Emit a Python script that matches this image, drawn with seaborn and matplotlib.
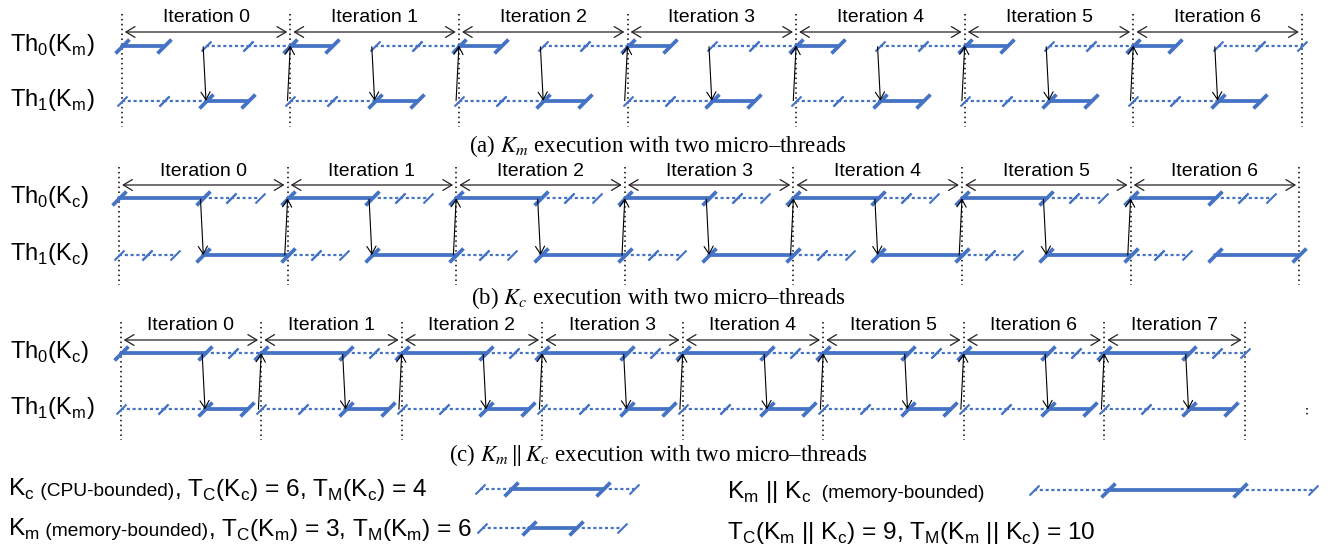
import matplotlib
matplotlib.use("Agg")
import matplotlib.pyplot as plt
import pandas as pd
import seaborn as sns

# ---------------- data ----------------
KERNEL_NAMES = ["Kc", "Km", "Km||Kc"]
T_COMPUTE = [6, 3, 9]          # T_C of Kc, Km, Km||Kc
T_MEMORY = [4, 6, 10]          # T_M of Kc, Km, Km||Kc

ITER_PERIOD = [12, 12, 10]     # panel (a), (b), (c)
ITER_COUNT = [7, 7, 8]

# per-iteration schedule of each micro-thread: (start, end, phase)  C = compute, M = memory
A_TH0 = [(0, 3, "C"), (6, 9, "M"), (9, 12, "M")]
A_TH1 = [(0, 3, "M"), (3, 6, "M"), (6, 9, "C")]
B_TH0 = [(0, 6, "C"), (6, 8, "M"), (8, 10, "M")]
B_TH1 = [(0, 2, "M"), (2, 4, "M"), (6, 12, "C")]
C_TH0 = [(0, 6, "C"), (6, 8, "M"), (8, 10, "M")]
C_TH1 = [(0, 3, "M"), (3, 6, "M"), (6, 9, "C")]
SCHEDULES = [[A_TH0, A_TH1], [B_TH0, B_TH1], [C_TH0, C_TH1]]

# hand-off arrows Th0 -> Th1 (at DOWN_AT inside iteration) and Th1 -> Th0 (at iteration start)
DOWN_AT = [6, 6, 6]
DOWN_ITERS = [[0, 1, 2, 3, 4, 5, 6], [0, 1, 2, 3, 4, 5], [0, 1, 2, 3, 4, 5, 6, 7]]
UP_ITERS = [[1, 2, 3, 4, 5, 6], [1, 2, 3, 4, 5, 6], [1, 2, 3, 4, 5, 6, 7]]

THREAD_LABELS = [
    [r"Th$_\mathregular{0}$(K$_\mathregular{m}$)", r"Th$_\mathregular{1}$(K$_\mathregular{m}$)"],
    [r"Th$_\mathregular{0}$(K$_\mathregular{c}$)", r"Th$_\mathregular{1}$(K$_\mathregular{c}$)"],
    [r"Th$_\mathregular{0}$(K$_\mathregular{c}$)", r"Th$_\mathregular{1}$(K$_\mathregular{m}$)"],
]
CAPTIONS = [
    r"(a) $K_m$ execution with two micro–threads",
    r"(b) $K_c$ execution with two micro–threads",
    r"(c) $K_m\,\Vert\,K_c$ execution with two micro–threads",
]

# ---------------- layout / style ----------------
BLUE = "#4472C4"
X0, S = 120.5, 14.05                      # px of t=0, px per time unit
PANEL_ORIGIN_PX = [121.7, 119.0, 120.7]
ROW_Y = [(45.7, 100.7), (198.3, 255.0), (353.3, 409.3)]
ARROW_Y = [32, 185, 340]
ITER_TEXT_Y = [18, 171, 326]
VLINE_Y = [(14, 127), (167, 285), (322, 440)]
CAPTION_Y = [146, 298, 455]
CAPTION_X = 658
LABEL_X = 10

LEG_SAMPLES = [(0, 480, 15.4, 489), (1, 482, 15.6, 528), (2, 1034, 14.7, 490)]  # kernel, x_px, px/unit, y


def tx(px):
    return (px - X0) / S


sns.set_theme(style="white")
plt.rcParams["font.family"] = ["Liberation Sans", "DejaVu Sans"]

fig = plt.figure(figsize=(13.3, 5.5), dpi=100)
ax = fig.add_axes([0, 0, 1, 1])

seg_rows, tick_rows = [], []
sid = 0


def add_seg(xa, xb, y, ph):
    global sid
    seg_rows.append(dict(x=xa, y=y, seg=sid, phase=ph))
    seg_rows.append(dict(x=xb, y=y, seg=sid, phase=ph))
    tick_rows.append(dict(x=xa, y=y, phase=ph))
    tick_rows.append(dict(x=xb, y=y, phase=ph))
    sid += 1


for p in range(3):
    off = tx(PANEL_ORIGIN_PX[p])
    P = ITER_PERIOD[p]
    for th, sched in enumerate(SCHEDULES[p]):
        y = ROW_Y[p][th]
        for k in range(ITER_COUNT[p]):
            base = off + k * P
            for (s, e, ph) in sched:
                add_seg(base + s, base + e, y, ph)

# legend samples: load (TM/2), compute (TC), store (TM/2)
for (ki, xpx, ppu, ypx) in LEG_SAMPLES:
    u = ppu / S
    x = tx(xpx)
    half = T_MEMORY[ki] / 2
    add_seg(x, x + half * u, ypx, "M")
    add_seg(x + half * u, x + (half + T_COMPUTE[ki]) * u, ypx, "C")
    add_seg(x + (half + T_COMPUTE[ki]) * u, x + (T_MEMORY[ki] + T_COMPUTE[ki]) * u, ypx, "M")

seg_df = pd.DataFrame(seg_rows)
tick_df = pd.DataFrame(tick_rows)

sns.lineplot(data=seg_df[seg_df.phase == "M"], x="x", y="y", units="seg", estimator=None,
             sort=False, color=BLUE, lw=1.6, linestyle=(0, (1.4, 1.2)), legend=False, ax=ax, zorder=2)
sns.lineplot(data=seg_df[seg_df.phase == "C"], x="x", y="y", units="seg", estimator=None,
             sort=False, color=BLUE, lw=2.7, legend=False, ax=ax, zorder=2)

SLASH = [(-1, -1), (1, 1)]
sns.scatterplot(data=tick_df[tick_df.phase == "M"], x="x", y="y", marker=SLASH, s=52,
                linewidth=1.5, color=BLUE, edgecolor=BLUE, legend=False, ax=ax, zorder=3)
sns.scatterplot(data=tick_df[tick_df.phase == "C"], x="x", y="y", marker=SLASH, s=100,
                linewidth=2.7, color=BLUE, edgecolor=BLUE, legend=False, ax=ax, zorder=4)

for p in range(3):
    off = tx(PANEL_ORIGIN_PX[p])
    P = ITER_PERIOD[p]
    y0, y1 = ROW_Y[p]
    # boundaries
    xs = [off + k * P for k in range(ITER_COUNT[p] + 1)]
    ax.vlines(xs, VLINE_Y[p][0], VLINE_Y[p][1], colors="black", linestyles=(0, (1, 2.2)),
              lw=1.1, zorder=1)
    # iteration arrows & labels
    for k in range(ITER_COUNT[p]):
        base = off + k * P
        ax.annotate("", xy=(base + P - 0.22, ARROW_Y[p]), xytext=(base + 0.22, ARROW_Y[p]),
                    arrowprops=dict(arrowstyle="<->,head_length=0.5,head_width=0.3", color="#222222",
                                    lw=0.9, shrinkA=0, shrinkB=0, mutation_scale=13))
        ax.text(base + P / 2, ITER_TEXT_Y[p], f"Iteration {k}", ha="center", va="center",
                fontsize=14, color="black")
    for k in DOWN_ITERS[p]:
        t = off + k * P + DOWN_AT[p]
        ax.annotate("", xy=(t, y1), xytext=(t - 0.2, y0 + 1),
                    arrowprops=dict(arrowstyle="->,head_length=0.5,head_width=0.3", color="black",
                                    lw=0.8, shrinkA=0, shrinkB=0, mutation_scale=11), zorder=5)
    for k in UP_ITERS[p]:
        t = off + k * P
        ax.annotate("", xy=(t, y0), xytext=(t - 0.2, y1),
                    arrowprops=dict(arrowstyle="->,head_length=0.5,head_width=0.3", color="black",
                                    lw=0.8, shrinkA=0, shrinkB=0, mutation_scale=11), zorder=5)
    for th in range(2):
        ax.text(tx(LABEL_X), ROW_Y[p][th] - 1, THREAD_LABELS[p][th], ha="left", va="center",
                fontsize=17, color="black")
    ax.text(tx(CAPTION_X), CAPTION_Y[p], CAPTIONS[p], ha="center", va="center", fontsize=16.5,
            family="Liberation Serif", math_fontfamily="stix", color="black")

# stray dotted mark at the right of panel (c)
ax.vlines([tx(1307)], 408, 417, colors="black", linestyles=(0, (1, 2.2)), lw=1.1)

# legend texts (pieces chained on a common baseline)
BIG, SMALL = 17.6, 13.8
LEG_TEXTS = [
    ((8, 496), [(r"K$_\mathregular{c}$", BIG), (" (CPU-bounded)", SMALL),
                (rf", T$_\mathregular{{C}}$(K$_\mathregular{{c}}$) = {T_COMPUTE[0]}, "
                 rf"T$_\mathregular{{M}}$(K$_\mathregular{{c}}$) = {T_MEMORY[0]}", BIG)]),
    ((8, 536), [(r"K$_\mathregular{m}$", BIG), (" (memory-bounded)", SMALL),
                (rf", T$_\mathregular{{C}}$(K$_\mathregular{{m}}$) = {T_COMPUTE[1]}, "
                 rf"T$_\mathregular{{M}}$(K$_\mathregular{{m}}$) = {T_MEMORY[1]}", BIG)]),
    ((727, 498), [(r"K$_\mathregular{m}$ || K$_\mathregular{c}$", BIG), ("  (memory-bounded)", SMALL)]),
    ((727, 539), [(rf"T$_\mathregular{{C}}$(K$_\mathregular{{m}}$ || K$_\mathregular{{c}}$) = {T_COMPUTE[2]}, "
                   rf"T$_\mathregular{{M}}$(K$_\mathregular{{m}}$ || K$_\mathregular{{c}}$) = {T_MEMORY[2]}", BIG)]),
]
leg_objs = []
for (xp, yp), pieces in LEG_TEXTS:
    objs = [ax.text(tx(xp), yp, s, fontsize=fs, ha="left", va="baseline", color="black")
            for s, fs in pieces]
    leg_objs.append(objs)

ax.set_xlim(tx(0), tx(1330))
ax.set_ylim(550, 0)
ax.set_axis_off()

fig.canvas.draw()
r = fig.canvas.get_renderer()
inv = ax.transData.inverted()
for objs in leg_objs:
    xd = None
    for t in objs:
        if xd is not None:
            t.set_x(inv.transform((xd, 0))[0])
        xd = t.get_window_extent(r).x1

fig.savefig("out.png", dpi=100)
